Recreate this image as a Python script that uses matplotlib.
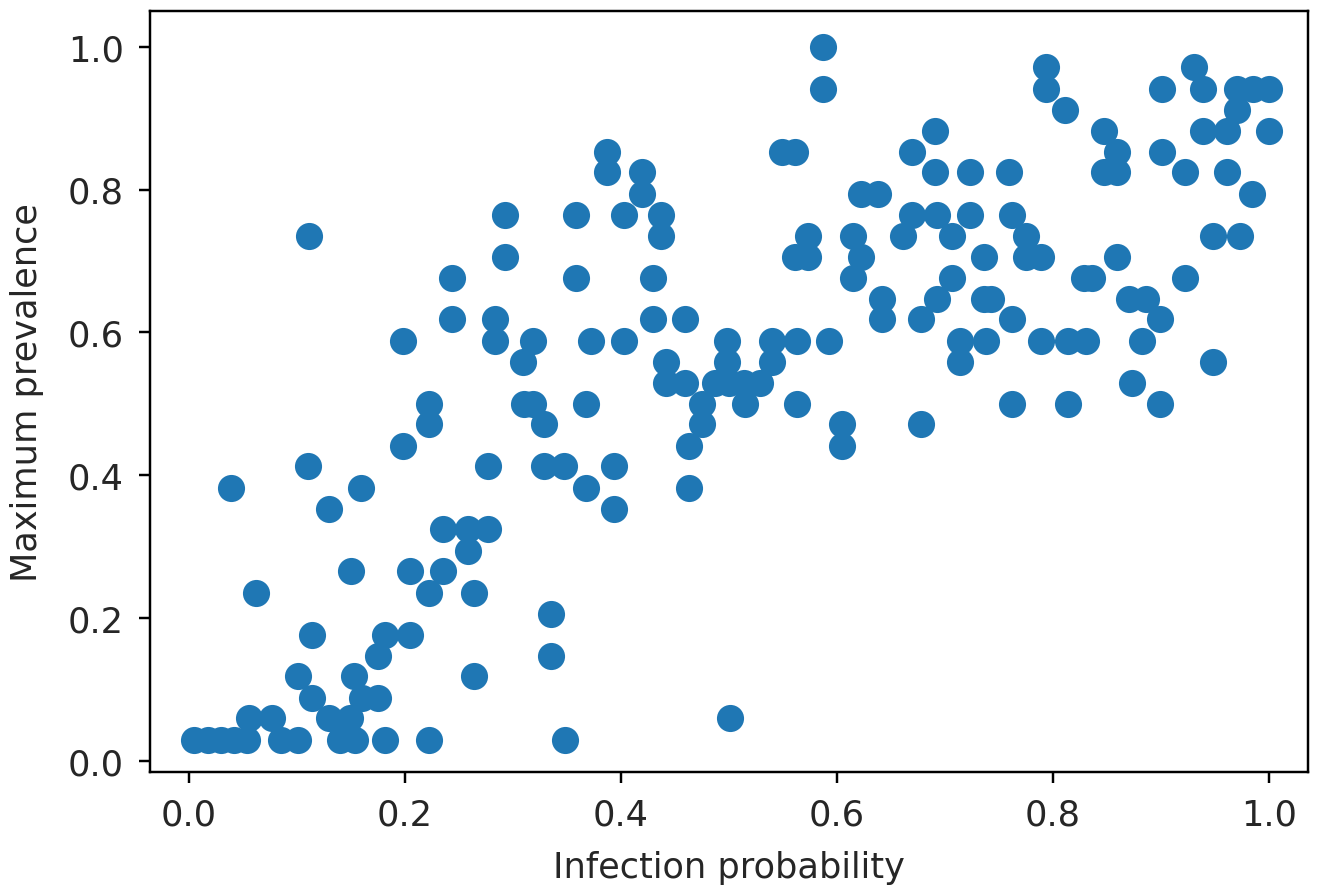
import matplotlib
matplotlib.use("Agg")
import matplotlib.pyplot as plt

plt.rcParams.update({
    "font.size": 11.5,
    "xtick.labelcolor": "#262626",
    "ytick.labelcolor": "#262626",
    "axes.labelcolor": "#262626",
    "xtick.major.pad": 5,
    "ytick.major.pad": 5,
})

# infection probability / maximum prevalence, read row by row (same prevalence level per line)
infection_prob = [
    0.005, 0.018, 0.030, 0.042, 0.054, 0.085, 0.101, 0.140, 0.154, 0.182, 0.222, 0.348,
    0.056, 0.077, 0.130, 0.149, 0.501,
    0.114, 0.160, 0.175,
    0.101, 0.153, 0.264,
    0.175, 0.335,
    0.114, 0.182, 0.205,
    0.335,
    0.062, 0.222, 0.264,
    0.150, 0.205, 0.235,
    0.258,
    0.235, 0.258, 0.277,
    0.130, 0.394,
    0.039, 0.159, 0.368, 0.463,
    0.110, 0.277, 0.329, 0.347, 0.394,
    0.198, 0.463, 0.605,
    0.222, 0.329, 0.475, 0.605, 0.678,
    0.222, 0.310, 0.319, 0.368, 0.475, 0.515, 0.563, 0.762, 0.814, 0.899,
    0.442, 0.459, 0.487, 0.500, 0.514, 0.529, 0.873,
    0.309, 0.442, 0.498, 0.540, 0.714, 0.948,
    0.198, 0.283, 0.319, 0.372, 0.403, 0.498, 0.540, 0.563, 0.593, 0.714, 0.738, 0.789,
    0.814, 0.831, 0.883,
    0.244, 0.283, 0.430, 0.459, 0.642, 0.678, 0.762, 0.899,
    0.642, 0.693, 0.736, 0.743, 0.871, 0.886,
    0.244, 0.358, 0.430, 0.615, 0.707, 0.829, 0.836, 0.922,
    0.293, 0.561, 0.573, 0.622, 0.736, 0.775, 0.789, 0.859,
    0.111, 0.437, 0.573, 0.615, 0.661, 0.707, 0.775, 0.948, 0.973,
    0.293, 0.358, 0.403, 0.437, 0.670, 0.693, 0.723, 0.762,
    0.420, 0.622, 0.638, 0.984,
    0.387, 0.420, 0.691, 0.723, 0.759, 0.847, 0.859, 0.922, 0.961,
    0.387, 0.549, 0.561, 0.670, 0.859, 0.901,
    0.691, 0.847, 0.939, 0.961, 1.000,
    0.811, 0.971,
    0.587, 0.794, 0.901, 0.939, 0.971, 0.985, 1.000,
    0.794, 0.931,
    0.587,
]

max_prevalence = (
    [0.029] * 12
    + [0.059] * 5
    + [0.088] * 3
    + [0.118] * 3
    + [0.147] * 2
    + [0.176] * 3
    + [0.206] * 1
    + [0.235] * 3
    + [0.265] * 3
    + [0.294] * 1
    + [0.324] * 3
    + [0.353] * 2
    + [0.382] * 4
    + [0.412] * 5
    + [0.441] * 3
    + [0.471] * 5
    + [0.500] * 10
    + [0.529] * 7
    + [0.559] * 6
    + [0.588] * 15
    + [0.618] * 8
    + [0.647] * 6
    + [0.676] * 8
    + [0.706] * 8
    + [0.735] * 9
    + [0.765] * 8
    + [0.794] * 4
    + [0.824] * 9
    + [0.853] * 6
    + [0.882] * 5
    + [0.912] * 2
    + [0.941] * 7
    + [0.971] * 2
    + [1.000] * 1
)

fig = plt.figure(figsize=(6.01, 4.036), dpi=220)
ax = fig.add_axes([0.1135, 0.1295, 0.8755, 0.857])

ax.scatter(infection_prob, max_prevalence, s=62, color="#1f77b4")
ax.set_xlim(-0.036, 1.036)
ax.set_ylim(-0.016, 1.05)
ax.set_xticks([0.0, 0.2, 0.4, 0.6, 0.8, 1.0])
ax.set_yticks([0.0, 0.2, 0.4, 0.6, 0.8, 1.0])
ax.set_xlabel("Infection probability", labelpad=6)
ax.set_ylabel("Maximum prevalence", labelpad=8)

fig.savefig("out.png", dpi=220)
